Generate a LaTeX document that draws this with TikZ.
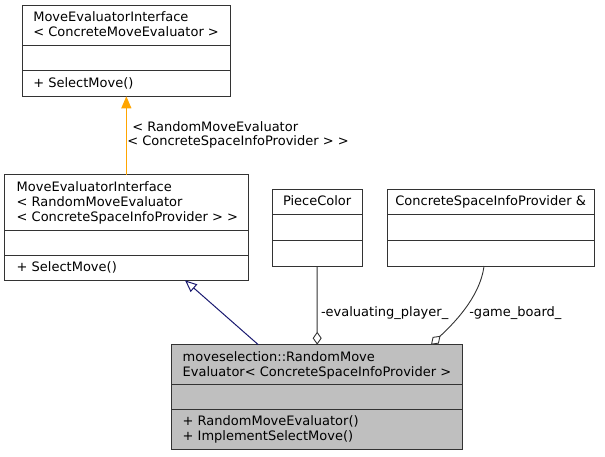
\documentclass[tikz,border=0pt]{standalone}
\usepackage{fontspec}
\setmainfont{DejaVu Sans}
\usetikzlibrary{arrows.meta}
\definecolor{bordergray}{HTML}{333333}
\definecolor{mainfill}{HTML}{BFBFBF}
\definecolor{inhnavy}{HTML}{191970}
\definecolor{tplorange}{HTML}{FFA500}
\begin{document}
\begin{tikzpicture}[x=1pt,y=1pt,
  box/.style={draw=bordergray, line width=1pt, inner sep=0pt, outer sep=0pt, anchor=north west},
  sepline/.style={draw=bordergray, line width=1pt},
  txt/.style={inner sep=0pt, outer sep=0pt, anchor=base west, font=\fontsize{13}{15}\selectfont},
  ctxt/.style={txt, anchor=base},
  tplarrow/.style={draw=tplorange, line width=1pt, -{Triangle[length=12pt,width=10pt,fill=tplorange]}},
  inharrow/.style={draw=inhnavy, line width=1pt, -{Triangle[open,length=12pt,width=10pt,fill=white]}},
  aggarrow/.style={draw=bordergray, line width=0.9pt, -{Diamond[open,length=13pt,width=9pt,fill=white]}}
]
\useasboundingbox (0,0) rectangle (605,456);

% Box A
\node[box, minimum width=207.3pt, minimum height=90.6pt] (A) at (22.7,450.3) {};
\draw[sepline] (22.7,410.3) -- (230,410.3);
\draw[sepline] (22.7,385) -- (230,385);
\node[txt] (a1) at (33.3,434) {MoveEvaluatorInterface};
\node[txt] (a2) at (33.3,419) {< ConcreteMoveEvaluator >};
\node[txt] (a3) at (33.3,368.7) {+ SelectMove()};

% Box B
\node[box, minimum width=243.3pt, minimum height=105.3pt] (B) at (4.7,281) {};
\draw[sepline] (4.7,226) -- (248,226);
\draw[sepline] (4.7,200.7) -- (248,200.7);
\node[txt] (b1) at (16.7,264.7) {MoveEvaluatorInterface};
\node[txt] (b2) at (16.7,249.7) {< RandomMoveEvaluator};
\node[txt] (b3) at (16.7,234.7) {< ConcreteSpaceInfoProvider > >};
\node[txt] (b4) at (16.7,184.4) {+ SelectMove()};

% PieceColor
\node[box, minimum width=90.3pt, minimum height=76.7pt] (P) at (272,266.7) {};
\draw[sepline] (272,241.3) -- (362.3,241.3);
\draw[sepline] (272,215.3) -- (362.3,215.3);
\node[ctxt] (p1) at (317.15,250.4) {PieceColor};

% ConcreteSpaceInfoProvider &
\node[box, minimum width=206.7pt, minimum height=76.7pt] (C) at (387.3,266.7) {};
\draw[sepline] (387.3,241.3) -- (594,241.3);
\draw[sepline] (387.3,215.3) -- (594,215.3);
\node[ctxt] (c1) at (490.65,250.4) {ConcreteSpaceInfoProvider \&};

% Main box
\node[box, fill=mainfill, minimum width=291pt, minimum height=104.6pt] (M) at (171.7,111.3) {};
\draw[sepline] (171.7,72) -- (462.7,72);
\draw[sepline] (171.7,46.7) -- (462.7,46.7);
\node[txt] (m1) at (182.7,95) {moveselection::RandomMove};
\node[txt] (m2) at (182.7,80) {Evaluator< ConcreteSpaceInfoProvider >};
\node[txt] (m3) at (182.7,30.4) {+ RandomMoveEvaluator()};
\node[txt] (m4) at (182.7,15.4) {+ ImplementSelectMove()};

% Template edge
\draw[tplarrow] (A.south |- B.north) -- (A.south);
\node[txt] (l1) at (132.3,324.5) {< RandomMoveEvaluator};
\node[txt] (l2) at (127.3,310) {< ConcreteSpaceInfoProvider > >};

% Inheritance edge
\coordinate (inhS) at (258.3,111.3);
\coordinate (inhT) at (185,175.7);
\draw[inharrow] (inhS) -- (inhT);

% Aggregation edges
\draw[aggarrow] (P.south) -- (M.north);
\node[txt] (l3) at (321,139.3) {-evaluating\_player\_};

\coordinate (gS) at (484,190);
\coordinate (gT) at (431,111.3);
\draw[aggarrow] (gS) .. controls (480,158) and (452,131) .. (gT);
\node[txt] (l4) at (469.3,139.3) {-game\_board\_};
\end{tikzpicture}
\end{document}
